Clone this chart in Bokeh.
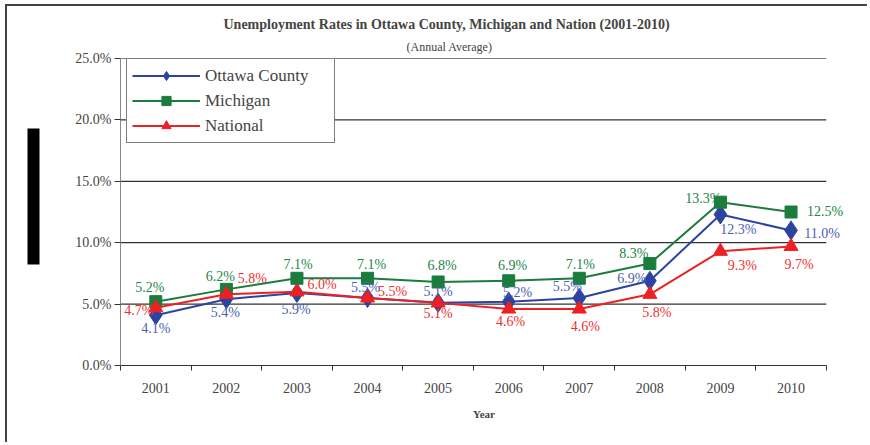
from bokeh.plotting import figure
from bokeh.models import (Range1d, FixedTicker, PrintfTickFormatter, Title, Legend,
                          LabelSet, ColumnDataSource, LinearAxis)
from bokeh.embed import file_html
from bokeh.resources import INLINE

# ---------------- data ----------------
years = [2001, 2002, 2003, 2004, 2005, 2006, 2007, 2008, 2009, 2010]
ottawa = [4.1, 5.4, 5.9, 5.5, 5.1, 5.2, 5.5, 6.9, 12.3, 11.0]
michigan = [5.2, 6.2, 7.1, 7.1, 6.8, 6.9, 7.1, 8.3, 13.3, 12.5]
national = [4.7, 5.8, 6.0, 5.5, 5.1, 4.6, 4.6, 5.8, 9.3, 9.7]
y_ticks = [0, 5, 10, 15, 20, 25]

# label offsets (screen px, +dy = downwards) for the data labels
ottawa_dx = [0, -1, -1, -2, 0, 9, -12, -18, 18, 31]
ottawa_dy = [13, 13, 16, -10, -11, -9, -11, -2, 15, 3]
michigan_dx = [-6, -6, 1, 4, 4, 4, 1, -16, -17, 34]
michigan_dy = [-14, -13, -14, -14, -16, -15, -14, -10, -4, -1]
national_dx = [-17, 26, 25, 25, 0, 2, 6, 7, 22, 8]
national_dy = [3, -16, -7, -6, 11, 12, 17, 18, 14, 18]

SERIF = "Liberation Serif"
BLUE, BLUE_T = "#2c44a0", "#4a61b3"
GREEN, GREEN_T = "#1a7c3d", "#23854a"
RED, RED_T = "#ee2024", "#f0302f"

x_lo, x_hi = years[0] - 0.5, years[-1] + 0.5

p = figure(width=862, height=438, output_backend="svg", toolbar_location=None,
           x_range=Range1d(x_lo, x_hi + 0.3), y_range=Range1d(0, 25),
           min_border_left=113, min_border_right=22, min_border_top=52,
           min_border_bottom=79, outline_line_color=None)
p.styles = {"margin-left": "5px", "margin-top": "4px",
            "border-top": "2px solid #444", "border-left": "2px solid #444"}

# titles
p.add_layout(Title(text="(Annual Average)", text_font=SERIF, text_font_size="12px",
                   text_font_style="normal", align="left", offset=286, standoff=10), "above")
p.add_layout(Title(text="Unemployment Rates in Ottawa County, Michigan and Nation (2001-2010)",
                   text_font=SERIF, text_font_size="14px", text_font_style="bold",
                   align="left", offset=103, standoff=1), "above")

# axes
xa = p.xaxis[0]
xa.ticker = FixedTicker(ticks=years, minor_ticks=[y - 0.5 for y in years] + [x_hi])
xa.bounds = (x_lo, x_hi)
xa.major_tick_line_color = None
xa.major_tick_out = 0
xa.minor_tick_out = 5
xa.minor_tick_in = 0
xa.minor_tick_line_color = "#333"
xa.axis_line_color = "#333"
xa.major_label_text_font = SERIF
xa.major_label_text_font_size = "14px"
xa.major_label_standoff = 12
xa.axis_label = "Year"
xa.axis_label_text_font = SERIF
xa.axis_label_text_font_size = "11px"
xa.axis_label_text_font_style = "bold"
xa.axis_label_standoff = 12

ya = p.yaxis[0]
ya.ticker = FixedTicker(ticks=y_ticks, minor_ticks=[])
ya.formatter = PrintfTickFormatter(format="%.1f%%")
ya.axis_line_color = "#888"
ya.major_tick_line_color = "#333"
ya.major_tick_out = 6
ya.major_tick_in = 0
ya.minor_tick_line_color = None
ya.major_label_text_font = SERIF
ya.major_label_text_font_size = "14px"
ya.major_label_standoff = 3

# decorative black bar in the left margin (drawn as one wide minor tick of an extra axis)
bar_axis = LinearAxis(ticker=FixedTicker(ticks=[], minor_ticks=[13.75]),
                      axis_line_color=None, major_tick_line_color=None,
                      major_label_text_font_size="0px",
                      minor_tick_line_color="black", minor_tick_line_width=136,
                      minor_tick_line_cap="butt", minor_tick_out=45, minor_tick_in=-33,
                      major_tick_out=0, major_tick_in=0, major_label_standoff=0)
p.add_layout(bar_axis, "left")

# horizontal gridlines limited to the category span
p.xgrid.grid_line_color = None
p.ygrid.grid_line_color = None
p.segment(x0=[x_lo] * len(y_ticks), x1=[x_hi] * len(y_ticks), y0=y_ticks, y1=y_ticks,
          line_color="black", line_width=1, level="underlay")

# series
series = [
    ("Ottawa County", ottawa, BLUE, BLUE_T, "diamond", 19, ottawa_dx, ottawa_dy),
    ("Michigan", michigan, GREEN, GREEN_T, "square", 12, michigan_dx, michigan_dy),
    ("National", national, RED, RED_T, "triangle", 14, national_dx, national_dy),
]
items = []
for name, vals, col, tcol, mk, sz, dx, dy in series:
    src = ColumnDataSource(dict(x=years, y=vals))
    l = p.line("x", "y", source=src, line_color=col, line_width=2)
    m = p.scatter("x", "y", source=src, marker=mk, size=sz, fill_color=col, line_color=col)
    items.append((name, [l, m]))

for name, vals, col, tcol, mk, sz, dx, dy in series:
    src = ColumnDataSource(dict(x=years, y=vals, lab=[f"{v:.1f}%" for v in vals],
                                dx=dx, dy=[-d for d in dy]))
    p.add_layout(LabelSet(x="x", y="y", text="lab", source=src, x_offset="dx", y_offset="dy",
                          text_align="center", text_baseline="middle", text_color=tcol,
                          text_font=SERIF, text_font_size="14px"))

legend = Legend(items=items, location=(6, 222), margin=0, padding=5,
                glyph_width=68, glyph_height=23, label_height=23, label_width=124,
                spacing=2, label_standoff=5, label_text_font=SERIF,
                label_text_font_size="17px", border_line_color="black",
                border_line_width=1, background_fill_alpha=1)
p.add_layout(legend, "center")

open("out.html", "w").write(file_html(p, INLINE))
